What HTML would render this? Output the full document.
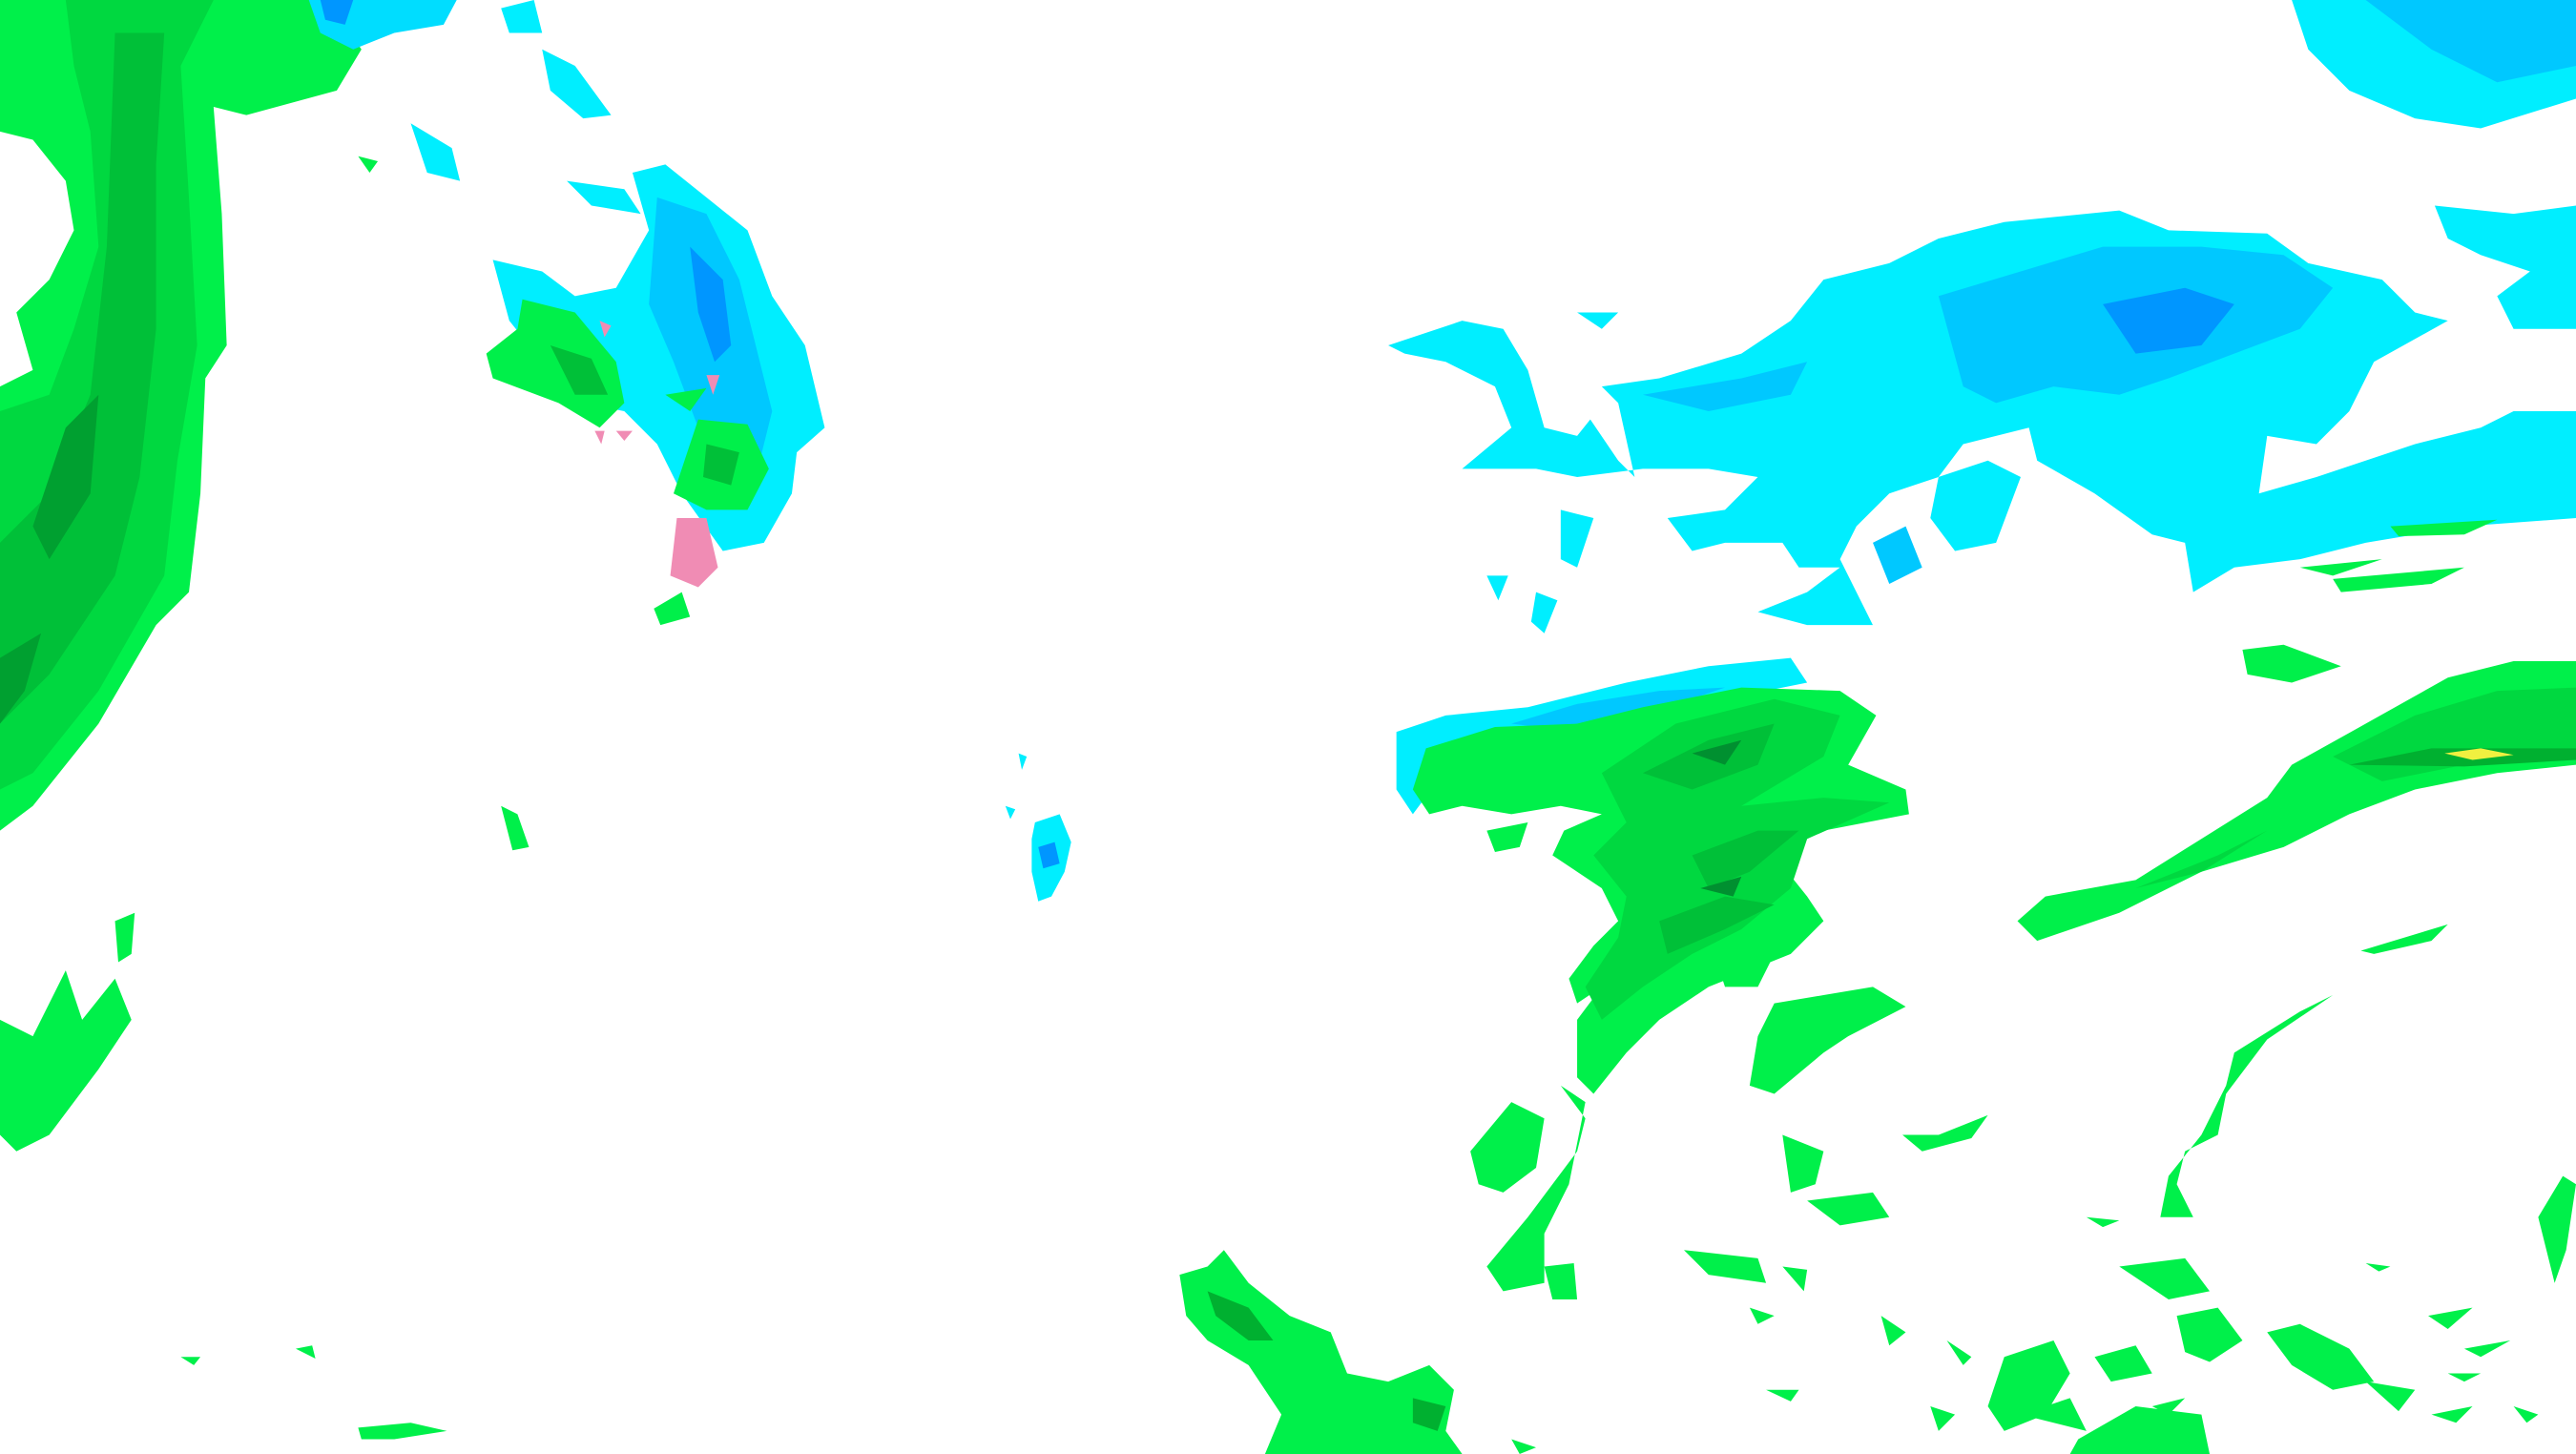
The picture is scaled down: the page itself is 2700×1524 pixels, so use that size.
<!DOCTYPE html>
<html><head><meta charset="utf-8"><style>
html,body{margin:0;padding:0;background:#fff;width:2700px;height:1524px;overflow:hidden}
svg{display:block}
</style></head><body>
<svg width="2700" height="1524" viewBox="0 0 1568 884" preserveAspectRatio="none" xmlns="http://www.w3.org/2000/svg">
<rect width="1568" height="884" fill="#fff"/>
<g>
<path fill="#00f04a" d="M0,0 L200,0 L220,30 L205,55 L150,70 L130,65 L135,130 L138,210 L125,230 L122,300 L115,360 L95,380 L60,440 L20,490 L0,505 L0,235 L20,225 L10,190 L30,170 L45,140 L40,110 L20,85 L0,80 Z"/>
<path fill="#00d840" d="M40,0 L130,0 L110,40 L115,120 L120,210 L108,280 L100,350 L60,420 L20,470 L0,480 L0,250 L30,240 L45,200 L60,150 L55,80 L45,40 Z"/>
<path fill="#00c038" d="M70,20 L100,20 L95,100 L95,200 L85,290 L70,350 L30,410 L0,440 L0,330 L30,300 L55,240 L65,150 Z"/>
<path fill="#00a030" d="M40,260 L60,240 L55,300 L30,340 L20,320 Z M0,400 L25,385 L15,420 L0,440 Z"/>
</g>
<g>
<path fill="#00ddff" d="M188,0 L278,0 L270,15 L240,20 L215,30 L195,20 Z"/>
<path fill="#0096ff" d="M195,0 L215,0 L210,15 L198,12 Z"/>
<path fill="#00eeff" d="M305,5 L325,0 L330,20 L310,20 Z M330,30 L350,40 L372,70 L355,72 L335,55 Z M250,75 L275,90 L280,110 L260,105 Z"/>
</g>
<g>
<path fill="#00eeff" d="M300,158 L330,165 L350,180 L375,175 L395,140 L385,105 L405,100 L430,120 L455,140 L470,180 L490,210 L502,260 L485,275 L482,300 L465,330 L440,335 L415,300 L400,270 L380,250 L355,245 L330,220 L310,195 Z M345,110 L380,115 L390,130 L360,125 Z"/>
<path fill="#00c8ff" d="M400,120 L430,130 L450,170 L460,210 L470,250 L460,290 L440,300 L425,260 L410,220 L395,185 Z"/>
<path fill="#0096ff" d="M420,150 L440,170 L445,210 L435,220 L425,190 Z"/>
<path fill="#00f04a" d="M318,182 L350,190 L375,220 L380,245 L365,260 L340,245 L300,230 L296,215 L315,200 Z M425,255 L455,258 L468,285 L455,310 L430,310 L410,300 Z M398,370 L415,360 L420,375 L402,380 Z M405,240 L430,236 L420,250 Z"/>
<path fill="#00c038" d="M335,210 L360,218 L370,240 L350,240 Z M430,270 L450,275 L445,295 L428,290 Z"/>
<path fill="#f08cb4" d="M412,315 L430,315 L437,345 L425,357 L408,350 Z M362,262 L368,262 L366,270 Z M375,262 L385,262 L380,268 Z M430,228 L438,228 L434,240 Z M365,195 L372,198 L368,205 Z"/>
</g>
<g>
<path fill="#00eeff" d="M1395,0 L1568,0 L1568,60 L1510,78 L1470,72 L1430,55 L1405,30 Z"/>
<path fill="#00c8ff" d="M1440,0 L1568,0 L1568,40 L1520,50 L1480,30 Z"/>
<path fill="#00eeff" d="M1482,125 L1530,130 L1568,125 L1568,200 L1530,200 L1520,180 L1540,165 L1510,155 L1490,145 Z"/>
</g>
<g>
<path fill="#00eeff" d="M845,210 L890,195 L915,200 L930,225 L940,260 L960,265 L968,255 L985,280 L995,290 L985,245 L975,235 L1010,230 L1060,215 L1090,195 L1110,170 L1150,160 L1180,145 L1220,135 L1290,128 L1320,140 L1380,142 L1405,160 L1450,170 L1470,190 L1490,195 L1445,220 L1430,250 L1410,270 L1380,265 L1375,300 L1410,290 L1470,270 L1510,260 L1530,250 L1568,250 L1568,315 L1500,320 L1440,330 L1400,340 L1360,345 L1335,360 L1330,330 L1310,325 L1275,300 L1240,280 L1235,260 L1195,270 L1180,290 L1150,300 L1130,320 L1120,340 L1140,380 L1100,380 L1070,372 L1100,360 L1120,345 L1095,345 L1085,330 L1050,330 L1030,335 L1015,315 L1050,310 L1070,290 L1040,285 L1000,285 L960,290 L935,285 L890,285 L920,260 L910,235 L880,220 L855,215 Z"/>
<path fill="#00c8ff" d="M1180,180 L1230,165 L1280,150 L1340,150 L1390,155 L1420,175 L1400,200 L1360,215 L1320,230 L1290,240 L1250,235 L1215,245 L1195,235 Z M1000,240 L1060,230 L1100,220 L1090,240 L1040,250 Z M1140,330 L1160,320 L1170,345 L1150,355 Z"/>
<path fill="#0096ff" d="M1280,185 L1330,175 L1360,185 L1340,210 L1300,215 Z"/>
<path fill="#00eeff" d="M950,310 L970,315 L960,345 L950,340 Z M935,360 L948,365 L940,385 L932,378 Z M905,350 L918,350 L912,365 Z M1180,290 L1210,280 L1230,290 L1215,330 L1190,335 L1175,315 Z M960,190 L985,190 L975,200 Z"/>
<path fill="#00f04a" d="M1455,320 L1520,316 L1500,325 L1460,326 Z M1400,345 L1450,340 L1420,350 Z M1420,352 L1500,345 L1480,355 L1425,360 Z M1365,395 L1390,392 L1425,405 L1395,415 L1368,410 Z"/>
</g>
<g>
<path fill="#00eeff" d="M850,445 L880,435 L930,430 L990,415 L1040,405 L1090,400 L1100,415 L1050,425 L990,435 L950,450 L900,460 L875,475 L860,495 L850,480 Z"/>
<path fill="#00c8ff" d="M920,440 L960,428 L1010,420 L1050,418 L1000,435 L960,445 Z"/>
<path fill="#00f04a" d="M868,455 L910,442 L960,440 L1000,430 L1060,418 L1120,420 L1142,435 L1125,465 L1160,480 L1162,495 L1110,505 L1080,520 L1100,545 L1110,560 L1090,580 L1065,590 L1040,600 L1010,620 L990,640 L970,665 L960,655 L960,620 L975,600 L960,610 L955,595 L970,575 L985,560 L975,540 L960,530 L945,520 L952,505 L975,495 L950,490 L920,495 L890,490 L870,495 L860,480 Z M905,505 L930,500 L925,515 L910,518 Z"/>
<path fill="#00d840" d="M975,470 L1020,440 L1080,425 L1120,435 L1110,460 L1060,490 L1110,485 L1150,488 L1100,510 L1090,540 L1060,565 L1030,580 L1000,600 L975,620 L965,600 L985,570 L990,545 L970,520 L990,500 Z"/>
<path fill="#00c038" d="M1000,470 L1040,450 L1080,440 L1070,465 L1030,480 Z M1030,520 L1070,505 L1095,505 L1065,530 L1040,540 Z M1010,560 L1050,545 L1080,550 L1050,565 L1015,580 Z"/>
<path fill="#009030" d="M1030,458 L1060,450 L1050,465 Z M1035,540 L1060,533 L1055,545 Z"/>
<path fill="#00f04a" d="M1080,610 L1110,605 L1140,600 L1160,612 L1125,630 L1110,640 L1080,665 L1065,660 L1070,630 Z M1045,585 L1080,580 L1070,600 L1050,600 Z"/>
</g>
<g>
<path fill="#00f04a" d="M1395,465 L1440,440 L1490,412 L1530,402 L1568,402 L1568,465 L1520,470 L1470,480 L1430,495 L1390,515 L1340,530 L1290,555 L1240,572 L1228,560 L1245,545 L1300,535 L1340,510 L1380,485 Z"/>
<path fill="#00d840" d="M1420,460 L1470,435 L1520,420 L1568,418 L1568,455 L1500,465 L1450,475 Z M1300,540 L1350,520 L1380,505 L1340,530 Z"/>
<path fill="#00b030" d="M1430,465 L1480,455 L1540,455 L1568,455 L1568,462 L1500,466 Z"/>
<path fill="#f0f040" d="M1488,458 L1510,455 L1530,459 L1505,462 Z"/>
<path fill="#00f04a" d="M1437,578 L1490,562 L1480,572 L1445,580 Z M1360,640 L1400,615 L1420,605 L1380,632 L1355,665 L1350,690 L1330,700 L1325,720 L1335,740 L1315,740 L1320,715 L1340,690 L1355,660 Z"/>
</g>
<g fill="#00f04a">
<path d="M0,620 L20,630 L35,600 L40,590 L50,620 L70,595 L80,620 L60,650 L30,690 L10,700 L0,690 Z M70,560 L82,555 L80,580 L72,585 Z M305,490 L315,495 L322,515 L312,517 Z"/>
<path d="M718,775 L735,770 L745,760 L760,780 L785,800 L810,810 L820,835 L845,840 L870,830 L885,845 L880,870 L890,884 L770,884 L780,860 L760,830 L735,815 L722,800 Z"/>
<path d="M895,700 L920,670 L940,680 L935,710 L915,725 L900,720 Z M905,770 L930,740 L945,720 L960,700 L965,680 L950,660 L965,670 L955,720 L940,750 L940,780 L915,785 Z M940,770 L958,768 L960,790 L945,790 Z M1085,690 L1110,700 L1105,720 L1090,725 Z M1100,730 L1140,725 L1150,740 L1120,745 Z M1158,690 L1180,690 L1210,678 L1200,692 L1170,700 Z M1025,760 L1070,765 L1075,780 L1040,775 Z M1085,770 L1100,772 L1098,785 Z M1065,795 L1080,800 L1070,805 Z M1145,800 L1160,810 L1150,818 Z M1175,855 L1190,860 L1180,870 Z M1185,815 L1200,825 L1195,830 Z M1220,825 L1250,815 L1260,835 L1245,860 L1220,870 L1210,855 Z M1230,860 L1260,850 L1270,870 Z M1265,875 L1300,855 L1340,860 L1345,884 L1260,884 Z M1290,770 L1330,765 L1345,785 L1320,790 Z M1325,800 L1350,795 L1365,815 L1345,828 L1330,822 Z M1270,740 L1290,742 L1280,746 Z M1275,825 L1300,818 L1310,835 L1285,840 Z M1380,810 L1400,805 L1430,820 L1445,840 L1420,845 L1395,830 Z M1440,840 L1470,845 L1460,858 Z M1478,800 L1505,795 L1490,808 Z M1500,820 L1528,815 L1510,825 Z M1480,860 L1505,855 L1495,865 Z M1545,740 L1560,715 L1568,720 L1562,760 L1555,780 Z M1310,855 L1330,850 L1320,860 Z M1075,845 L1095,845 L1090,852 Z M920,875 L935,880 L925,884 Z M218,868 L250,865 L272,870 L240,875 L220,875 Z M180,820 L190,818 L192,826 Z M110,825 L122,825 L118,830 Z M218,95 L230,98 L225,105 Z M1440,768 L1455,770 L1448,773 Z M1530,855 L1545,860 L1538,865 Z M1490,835 L1510,835 L1500,840 Z"/>
</g>
<g fill="#00b030">
<path d="M735,785 L760,795 L775,815 L760,815 L740,800 Z M860,850 L880,855 L875,870 L860,865 Z"/>
</g>
<g>
<path fill="#00eeff" d="M630,500 L645,495 L652,512 L648,530 L640,545 L632,548 L628,530 L628,510 Z M620,458 L625,460 L622,468 Z M612,490 L618,492 L615,498 Z"/>
<path fill="#0096ff" d="M632,515 L642,512 L645,525 L635,528 Z"/>
</g>
</svg>
</body></html>
